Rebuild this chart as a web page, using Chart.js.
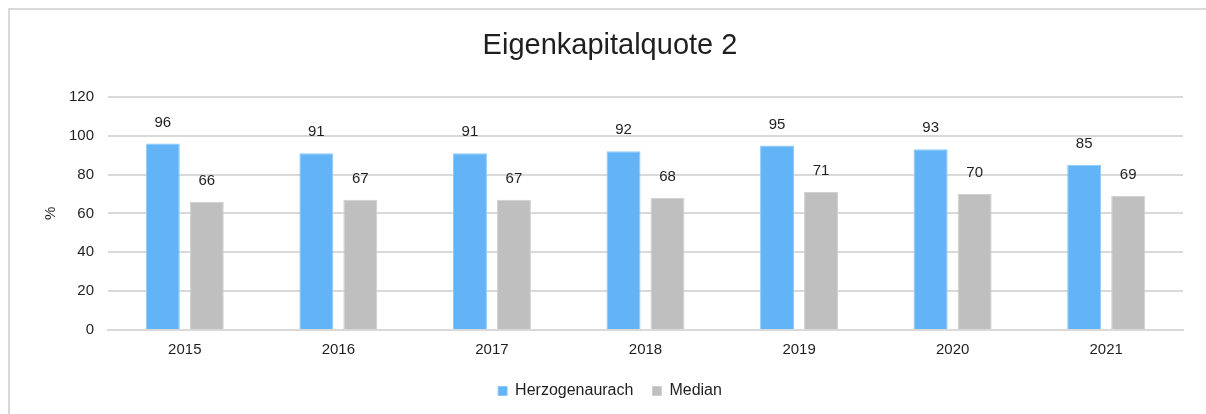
<!DOCTYPE html>
<html>
<head>
<meta charset="utf-8">
<script src="https://cdn.jsdelivr.net/npm/chart.js@4"></script>
<style>
  html, body { margin: 0; padding: 0; background: #fff; }
  #wrap { position: relative; width: 1206px; height: 414px; overflow: hidden; }
  #frame { position: absolute; left: 8px; top: 8px; width: 1300px; height: 500px;
           border: 2px solid #d9d9d9; box-sizing: border-box; }
  canvas { position: absolute; left: 0; top: 0; }
</style>
</head>
<body>
<div id="wrap">
  <div id="frame"></div>
  <!-- canvas runs past the right edge so title and legend centre on the frame -->
  <canvas id="quoteChart" width="1220" height="414"></canvas>
</div>
<script>
const years = ['2015', '2016', '2017', '2018', '2019', '2020', '2021'];
const herzogenaurach = [96, 91, 91, 92, 95, 93, 85];
const median = [66, 67, 67, 68, 71, 70, 69];
const yTicks = [0, 20, 40, 60, 80, 100, 120];

const textColor = '#1f1f1f';
const fontFamily = 'Arial, "Liberation Sans", sans-serif';

// value labels above every bar
const valueLabels = {
    id: 'valueLabels',
    afterDatasetsDraw(chart) {
        const ctx = chart.ctx;
        ctx.save();
        ctx.font = '15px ' + fontFamily;
        ctx.fillStyle = textColor;
        ctx.textAlign = 'center';
        ctx.textBaseline = 'middle';
        chart.data.datasets.forEach((ds, i) => {
            chart.getDatasetMeta(i).data.forEach((bar, j) => {
                ctx.fillText(ds.data[j], bar.x, bar.y - 21);
            });
        });
        ctx.restore();
    }
};

new Chart(document.getElementById('quoteChart'), {
    type: 'bar',
    data: {
        labels: years,
        datasets: [{
            label: 'Herzogenaurach',
            data: herzogenaurach,
            backgroundColor: '#63b4f6',
            borderColor: '#8ec8f8',
            borderWidth: 1,
            categoryPercentage: 0.573,
            barPercentage: 0.773
        }, {
            label: 'Median',
            data: median,
            backgroundColor: '#bfbfbf',
            borderColor: '#d0d0d0',
            borderWidth: 1,
            categoryPercentage: 0.573,
            barPercentage: 0.773
        }]
    },
    options: {
        responsive: false,
        animation: false,
        layout: { padding: { left: 0, right: 0, top: 0, bottom: 5 } },
        plugins: {
            title: {
                display: true,
                text: 'Eigenkapitalquote 2',
                color: textColor,
                font: { family: fontFamily, size: 29, weight: 'normal' },
                padding: { top: 28.5, bottom: 33.5 }
            },
            legend: {
                position: 'bottom',
                labels: {
                    color: textColor,
                    font: { family: fontFamily, size: 16 },
                    boxWidth: 9,
                    boxHeight: 9,
                    padding: 19
                }
            },
            tooltip: { enabled: false }
        },
        scales: {
            x: {
                grid: { display: false, drawTicks: false },
                border: { color: '#d9d9d9', width: 2 },
                ticks: {
                    color: textColor,
                    font: { family: fontFamily, size: 15 },
                    padding: 11
                },
                afterFit(scale) { scale.height = 34; }
            },
            y: {
                min: 0,
                max: 120,
                afterBuildTicks(scale) {
                    scale.ticks = yTicks.map(v => ({ value: v }));
                },
                grid: { color: '#d9d9d9', lineWidth: 2, drawTicks: false },
                border: { display: false },
                ticks: {
                    color: textColor,
                    font: { family: fontFamily, size: 15 },
                    padding: 14
                },
                title: {
                    display: true,
                    text: '%',
                    color: textColor,
                    font: { family: fontFamily, size: 15 },
                    padding: { top: 42, bottom: 0 }
                },
                afterFit(scale) { scale.width = 108; }
            },
            // empty right-hand margin that keeps the plot off the frame edge
            spacer: {
                type: 'linear',
                position: 'right',
                grid: { display: false, drawTicks: false },
                border: { display: false },
                ticks: { display: false },
                afterFit(scale) { scale.width = 37; }
            }
        }
    },
    plugins: [valueLabels]
});
</script>
</body>
</html>
